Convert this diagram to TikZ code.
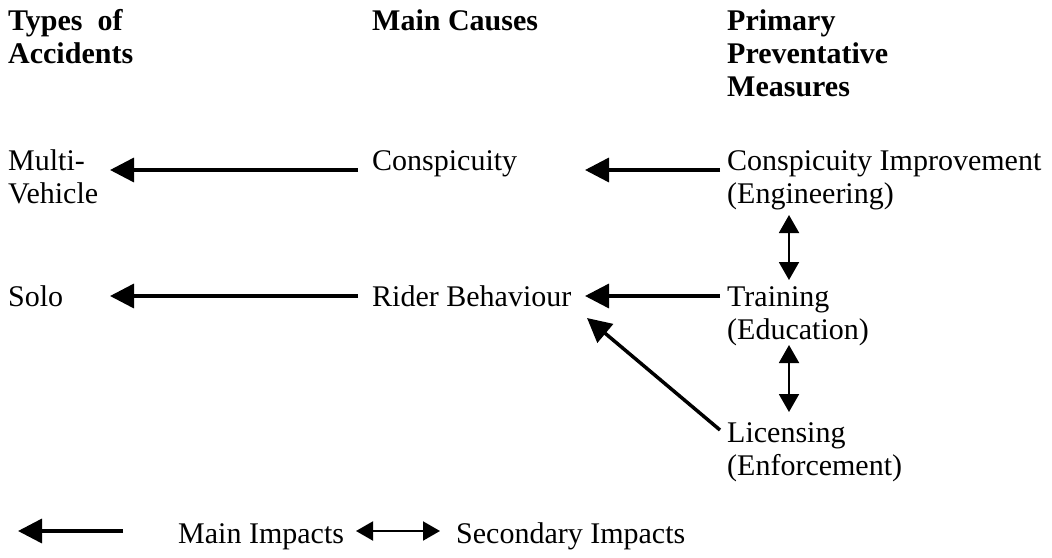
\documentclass[tikz,border=0pt]{standalone}
\usepackage{fontspec}
\setmainfont{Liberation Serif}
\usetikzlibrary{arrows.meta}
\begin{document}
\begin{tikzpicture}[x=1pt,y=-1pt,
  txt/.style={anchor=base west,inner sep=0pt,font=\fontsize{30}{33}\selectfont},
  hd/.style={txt,font=\fontsize{30}{33}\selectfont\bfseries},
  mainarrow/.style={line width=3.5pt,-{Triangle[length=24pt,width=24pt]}},
  secarrow/.style={line width=2pt,{Triangle[length=18pt,width=20pt]}-{Triangle[length=18pt,width=20pt]}},
  legsec/.style={line width=2pt,{Triangle[length=17pt,width=19pt]}-{Triangle[length=17pt,width=19pt]}}]
\useasboundingbox (0,0) rectangle (1052,557);
% headings
\node[hd] (h1a) at (8,30) {Types\ \ of};
\node[hd] (h1b) at (8,63) {Accidents};
\node[hd] (h2) at (372,30) {Main Causes};
\node[hd] (h3a) at (727,30) {Primary};
\node[hd] (h3b) at (727,63) {Preventative};
\node[hd] (h3c) at (727,96) {Measures};
% row 1
\node[txt] (mv1) at (8,170) {Multi-};
\node[txt] (mv2) at (8,203) {Vehicle};
\node[txt] (con) at (372,170) {Conspicuity};
\node[txt] (ci1) at (727,170) {Conspicuity Improvement};
\node[txt] (ci2) at (727,203) {(Engineering)};
% row 2
\node[txt] (solo) at (8,306) {Solo};
\node[txt] (rb) at (372,306) {Rider Behaviour};
\node[txt] (tr1) at (727,306) {Training};
\node[txt] (tr2) at (727,339) {(Education)};
% row 3
\node[txt] (li1) at (727,442) {Licensing};
\node[txt] (li2) at (727,475) {(Enforcement)};
% legend
\node[txt] (lmain) at (178,543) {Main Impacts};
\node[txt] (lsec) at (456,543) {Secondary Impacts};
% arrow end points
\coordinate (a1s) at (358,170); \coordinate (a1e) at (110,170);
\coordinate (a2s) at (720,170); \coordinate (a2e) at (585,170);
\coordinate (a3s) at (358,296); \coordinate (a3e) at (110,296);
\coordinate (a4s) at (720,296); \coordinate (a4e) at (585,296);
\coordinate (a5s) at (720,430); \coordinate (a5e) at (587,318);
\coordinate (v1a) at (789,215); \coordinate (v1b) at (789,280);
\coordinate (v2a) at (789,345); \coordinate (v2b) at (789,412);
\coordinate (l1s) at (123,531); \coordinate (l1e) at (18,531);
\coordinate (l2a) at (356,531); \coordinate (l2b) at (440,531);
\draw[mainarrow] (a1s) -- (a1e);
\draw[mainarrow] (a2s) -- (a2e);
\draw[mainarrow] (a3s) -- (a3e);
\draw[mainarrow] (a4s) -- (a4e);
\draw[mainarrow] (a5s) -- (a5e);
\draw[secarrow] (v1a) -- (v1b);
\draw[secarrow] (v2a) -- (v2b);
\draw[mainarrow] (l1s) -- (l1e);
\draw[legsec] (l2a) -- (l2b);
\end{tikzpicture}
\end{document}
